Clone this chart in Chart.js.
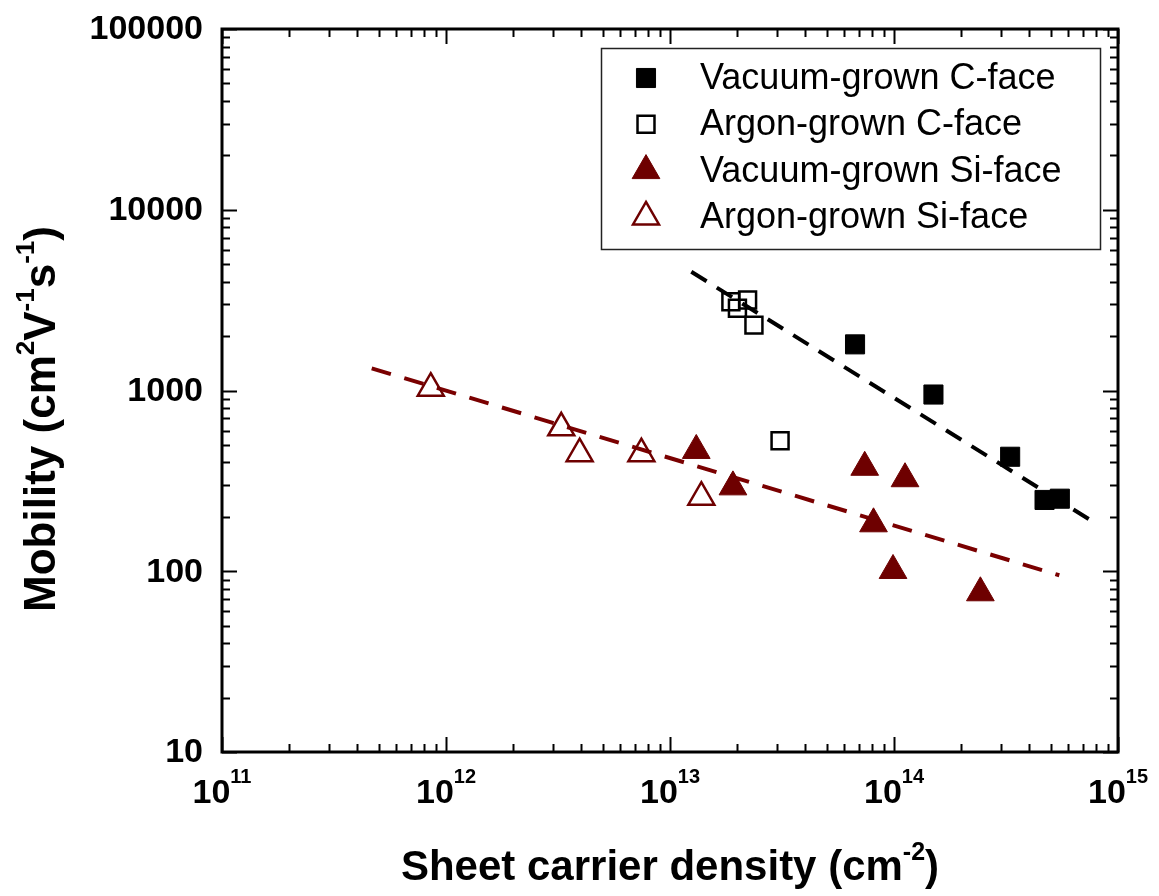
<!DOCTYPE html>
<html>
<head>
<meta charset="utf-8">
<script src="https://cdn.jsdelivr.net/npm/chart.js@4.4.1/dist/chart.umd.min.js"></script>
<style>
  body { margin: 0; background: #fff; }
  #wrap { width: 1159px; height: 896px; }
</style>
</head>
<body>
<div id="wrap"><canvas id="chart" width="1159" height="896"></canvas></div>
<script>
// sheet carrier density (cm^-2) vs mobility (cm^2/Vs)
const vacCX = [6.7e13, 1.5e14, 3.3e14, 4.7e14, 5.5e14];
const vacCY = [1800, 950, 430, 248, 252];
const argCX = [1.87e13, 2.0e13, 2.22e13, 2.37e13, 3.1e13];
const argCY = [3100, 2850, 3170, 2300, 527];
const vacSiX = [1.31e13, 1.91e13, 7.4e13, 1.12e14, 8.1e13, 9.9e13, 2.43e14];
const vacSiY = [466, 293, 376, 325, 183, 101, 76];
const argSiX = [8.55e11, 3.27e12, 3.95e12, 7.45e12, 1.38e13];
const argSiY = [1030, 622, 447, 447, 257];

// dashed fit lines, end points only
const fitCX = [1.245e13, 8.07e14];
const fitCY = [4540, 182];
const fitSiX = [4.66e11, 5.47e14];
const fitSiY = [1327, 95];

const seriesNames = ['Vacuum-grown C-face', 'Argon-grown C-face', 'Vacuum-grown Si-face', 'Argon-grown Si-face'];
const xExponents = ['11', '12', '13', '14', '15'];
const yTickLabels = ['10', '100', '1000', '10000', '100000'];
// [text, isSuperscript]
const xTitle = [['Sheet carrier density (cm', 0], ['-2', 1], [')', 0]];
const yTitle = [['Mobility (cm', 0], ['2', 1], ['V', 0], ['-1', 1], ['s', 0], ['-1', 1], [')', 0]];

const RED = '#6e0000';
const FONT = '"Liberation Sans", Arial, sans-serif';

function pts(xs, ys) {
    return xs.map((x, i) => ({ x: x, y: ys[i] }));
}

// text with raised small parts, centred on cx
function drawRich(ctx, segs, size, cx, base, supScale, raise) {
    const supSize = Math.round(size * supScale);
    const fontOf = s => `bold ${s[1] ? supSize : size}px ${FONT}`;
    let w = 0;
    segs.forEach(s => { ctx.font = fontOf(s); w += ctx.measureText(s[0]).width; });
    let x = cx - w / 2;
    ctx.textAlign = 'left';
    ctx.textBaseline = 'alphabetic';
    segs.forEach(s => {
        ctx.font = fontOf(s);
        ctx.fillText(s[0], x, s[1] ? base - raise : base);
        x += ctx.measureText(s[0]).width;
    });
}

const axesPlugin = {
    id: 'axesPlugin',
    afterDraw(chart) {
        const ctx = chart.ctx;
        const a = chart.chartArea;
        const xs = chart.scales.x;
        const ys = chart.scales.y;
        const seg = (x1, y1, x2, y2) => { ctx.beginPath(); ctx.moveTo(x1, y1); ctx.lineTo(x2, y2); ctx.stroke(); };

        ctx.save();
        ctx.strokeStyle = '#000';
        ctx.fillStyle = '#000';
        ctx.lineWidth = 2;

        // inward ticks, major at decades, minor at 2..9
        for (let e = 11; e <= 15; e++) {
            for (let m = 1; m <= 9; m++) {
                if (e === 15 && m > 1) break;
                const px = Math.round(xs.getPixelForValue(m * Math.pow(10, e))) + 0.5;
                const len = m === 1 ? 15 : 8;
                seg(px, a.bottom, px, a.bottom - len);
                seg(px, a.top, px, a.top + len);
            }
        }
        for (let e = 1; e <= 5; e++) {
            for (let m = 1; m <= 9; m++) {
                if (e === 5 && m > 1) break;
                const py = Math.round(ys.getPixelForValue(m * Math.pow(10, e))) + 0.5;
                const len = m === 1 ? 15 : 8;
                seg(a.left, py, a.left + len, py);
                seg(a.right, py, a.right - len, py);
            }
        }

        ctx.lineWidth = 3;
        ctx.strokeRect(a.left, a.top, a.right - a.left, a.bottom - a.top);

        // y tick labels
        ctx.font = `bold 34px ${FONT}`;
        ctx.textAlign = 'right';
        ctx.textBaseline = 'middle';
        yTickLabels.forEach(t => {
            ctx.fillText(t, a.left - 19, ys.getPixelForValue(Number(t)) + 1);
        });

        // x tick labels 10^n
        xExponents.forEach(ex => {
            const px = xs.getPixelForValue(Math.pow(10, Number(ex)));
            drawRich(ctx, [['10', 0], [ex, 1]], 34, px, a.bottom + 51, 0.58, 20);
        });

        // axis titles
        drawRich(ctx, xTitle, 42, (a.left + a.right) / 2, 880, 0.6, 20);
        ctx.save();
        ctx.translate(55, 419);
        ctx.rotate(-Math.PI / 2);
        drawRich(ctx, yTitle, 44, 0, 0, 0.6, 21);
        ctx.restore();

        // legend box
        const lx = 601, ly = 48, lw = 499, lh = 201;
        ctx.fillStyle = '#fff';
        ctx.fillRect(lx, ly, lw, lh);
        ctx.strokeStyle = '#222';
        ctx.lineWidth = 1.5;
        ctx.strokeRect(lx + 0.5, ly + 0.5, lw, lh);
        const rows = chart.data.datasets.filter(d => d.inLegend);
        rows.forEach((d, i) => {
            const y = 78 + i * 46.3;
            ctx.fillStyle = d.backgroundColor;
            ctx.strokeStyle = d.borderColor;
            ctx.lineWidth = d.borderWidth;
            Chart.helpers.drawPoint(ctx, {
                pointStyle: d.pointStyle, radius: d.pointRadius, rotation: 0, borderWidth: d.borderWidth
            }, 646, y);
            ctx.fillStyle = '#000';
            ctx.font = `36px ${FONT}`;
            ctx.textAlign = 'left';
            ctx.textBaseline = 'middle';
            ctx.fillText(d.label, 700, y + 1);
        });
        ctx.restore();
    }
};

new Chart(document.getElementById('chart'), {
    type: 'scatter',
    data: {
        datasets: [
            {
                label: seriesNames[0], inLegend: true, data: pts(vacCX, vacCY),
                pointStyle: 'rect', pointRadius: 13.5, borderWidth: 1,
                backgroundColor: '#000', borderColor: '#000'
            },
            {
                label: seriesNames[1], inLegend: true, data: pts(argCX, argCY),
                pointStyle: 'rect', pointRadius: 12, borderWidth: 2.5,
                backgroundColor: 'rgba(0,0,0,0)', borderColor: '#000'
            },
            {
                label: seriesNames[2], inLegend: true, data: pts(vacSiX, vacSiY),
                pointStyle: 'triangle', pointRadius: 16, borderWidth: 1,
                backgroundColor: RED, borderColor: RED
            },
            {
                label: seriesNames[3], inLegend: true, data: pts(argSiX, argSiY),
                pointStyle: 'triangle', pointRadius: 15, borderWidth: 2.5,
                backgroundColor: 'rgba(0,0,0,0)', borderColor: RED
            },
            {
                label: 'fit C', data: pts(fitCX, fitCY), showLine: true, order: 5,
                pointRadius: 0, borderColor: '#000', borderWidth: 4, borderDash: [18, 12]
            },
            {
                label: 'fit Si', data: pts(fitSiX, fitSiY), showLine: true, order: 5,
                pointRadius: 0, borderColor: '#7a0000', borderWidth: 4, borderDash: [20, 14]
            }
        ]
    },
    options: {
        responsive: false,
        animation: false,
        layout: { padding: { left: 222, right: 41, top: 29, bottom: 144 } },
        plugins: { legend: { display: false }, tooltip: { enabled: false } },
        scales: {
            x: { type: 'logarithmic', min: 1e11, max: 1e15, display: false },
            y: { type: 'logarithmic', min: 10, max: 1e5, display: false }
        }
    },
    plugins: [axesPlugin]
});
</script>
</body>
</html>
